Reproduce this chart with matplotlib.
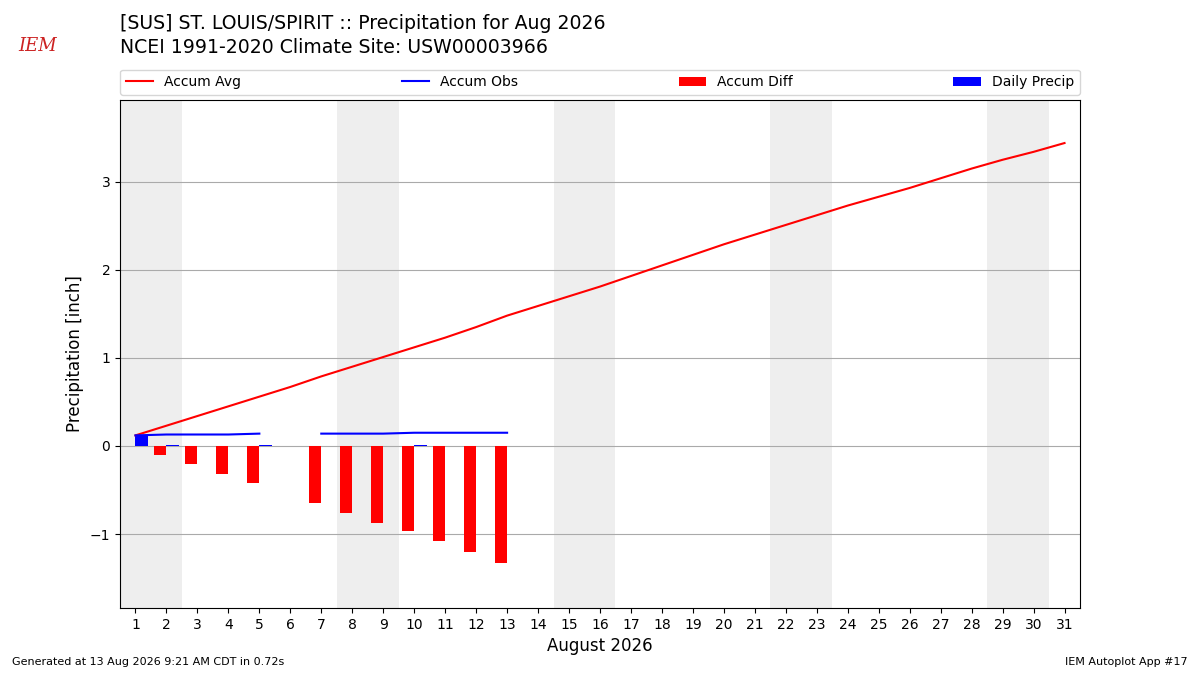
import numpy as np
import matplotlib
matplotlib.use("Agg")
import matplotlib.pyplot as plt

# daily values for August 2026
days = np.arange(1, 32)
accum_avg = [0.12, 0.23, 0.34, 0.45, 0.56, 0.67, 0.79, 0.90, 1.01, 1.12,
             1.23, 1.35, 1.48, 1.59, 1.70, 1.81, 1.93, 2.05, 2.17, 2.29,
             2.40, 2.51, 2.62, 2.73, 2.83, 2.93, 3.04, 3.15, 3.25, 3.34, 3.44]
obs_days = np.arange(1, 14)
accum_obs = [0.12, 0.13, 0.13, 0.13, 0.14, np.nan, 0.14, 0.14, 0.14, 0.15,
             0.15, 0.15, 0.15]
daily_precip = [0.12, 0.01, 0.0, 0.0, 0.01, np.nan, 0.0, 0.0, 0.0, 0.01,
                0.0, 0.0, 0.0]
weekends = [(0.5, 2.5), (7.5, 9.5), (14.5, 16.5), (21.5, 23.5), (28.5, 30.5)]

accum_diff = np.array(accum_obs) - np.array(accum_avg[:len(obs_days)])

fig = plt.figure(figsize=(12, 6.75), dpi=100)
ax = fig.add_axes([0.1, 0.0993, 0.8, 0.7527])

for lo, hi in weekends:
    ax.axvspan(lo, hi, color="#eeeeee", zorder=0, lw=0)

ax.plot(days, accum_avg, color="r", lw=1.5, label="Accum Avg", zorder=3)
ax.plot(obs_days, accum_obs, color="b", lw=1.5, label="Accum Obs", zorder=3)
ax.bar(obs_days - 0.4, accum_diff, width=0.4, align="edge", color="r",
       label="Accum Diff", zorder=2)
ax.bar(obs_days, daily_precip, width=0.4, align="edge", color="b",
       label="Daily Precip", zorder=2)

ax.set_xlim(0.5, 31.5)
ax.set_ylim(-1.84, 3.93)
ax.set_xticks(days)
ax.set_yticks([-1, 0, 1, 2, 3])
ax.grid(axis="y", color="#aaaaaa", lw=0.8)
ax.set_axisbelow(True)
ax.tick_params(labelsize=10)
ax.set_ylabel("Precipitation [inch]", fontsize=12)
ax.set_xlabel("August 2026", fontsize=12)

ax.legend(loc="lower left", bbox_to_anchor=(0, 1.01, 1, 0.1), ncol=4,
          mode="expand", borderaxespad=0, fontsize=10)

fig.text(0.1, 0.965, "[SUS] ST. LOUIS/SPIRIT :: Precipitation for Aug 2026",
         fontsize=13.6, va="center")
fig.text(0.1, 0.929, "NCEI 1991-2020 Climate Site: USW00003966",
         fontsize=13.6, va="center")
fig.text(0.031, 0.932, "IEM", color="#cc2222", fontsize=13, style="italic",
         family="serif", ha="center", va="center")
fig.text(0.01, 0.015, "Generated at 13 Aug 2026 9:21 AM CDT in 0.72s",
         fontsize=8)
fig.text(0.99, 0.015, "IEM Autoplot App #17", fontsize=8, ha="right")

fig.savefig("out.png", dpi=100)
